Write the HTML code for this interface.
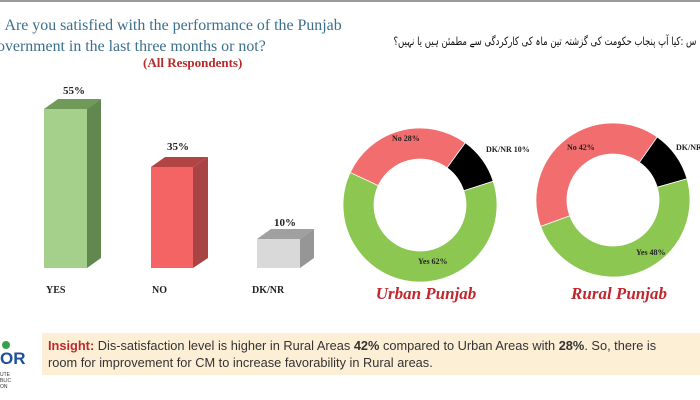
<!DOCTYPE html>
<html><head><meta charset="utf-8"><style>
body{margin:0;width:700px;height:400px;background:#fff;overflow:hidden;position:relative;font-family:"Liberation Serif",serif}
.t{position:absolute;white-space:nowrap}
</style></head><body>
<div style="position:absolute;left:0;top:0;width:700px;height:2px;background:#9a9a9a"></div>
<div class="t" style="left:-3px;top:15px;font-size:15.9px;color:#3c6f8c;line-height:21px">: Are you satisfied with the performance of the Punjab<br>overnment in the last three months or not?</div>
<div class="t" style="left:143px;top:55px;font-size:13px;font-weight:bold;color:#b82a2a">(All Respondents)</div>
<div class="t" style="right:4px;top:34px;font-size:11.5px;color:#111;font-family:'DejaVu Sans',sans-serif;direction:rtl;transform:scaleX(0.74);transform-origin:right center">س :کیا آپ پنجاب حکومت کی گزشتہ تین ماہ کی کارکردگی سے مطمئن ہیں یا نہیں؟</div>
<svg width="700" height="400" style="position:absolute;left:0;top:0" id="s">
<g font-family="Liberation Serif" font-weight="bold" font-size="11" fill="#222">
<polygon points="44,109 58,99 101,99 87,109" fill="#6f9a5a"/>
<polygon points="87,109 101,99 101,258 87,268" fill="#62874f"/>
<rect x="44" y="109" width="43" height="159" fill="#a5d08b"/>
<polygon points="151,167 165,157 208,157 193,167" fill="#b34444"/>
<polygon points="193,167 208,157 208,258 193,268" fill="#a84444"/>
<rect x="151" y="167" width="42" height="101" fill="#f46464"/>
<polygon points="257,239 271,229 314,229 300,239" fill="#a0a0a0"/>
<polygon points="300,239 314,229 314,258 300,268" fill="#969696"/>
<rect x="257" y="239" width="43" height="29" fill="#d9d9d9"/>
<text x="74" y="94" text-anchor="middle">55%</text>
<text x="178" y="150" text-anchor="middle">35%</text>
<text x="285" y="226" text-anchor="middle">10%</text>
<text x="46" y="293" font-size="10">YES</text>
<text x="152" y="293" font-size="10">NO</text>
<text x="252" y="293" font-size="10">DK/NR</text>
</g>
<g id="d"></g>
<g font-family="Liberation Serif" font-weight="bold" font-size="8" fill="#222">
<text x="392" y="141">No 28%</text>
<text x="486" y="152">DK/NR 10%</text>
<text x="418" y="264">Yes 62%</text>
<text x="567" y="150">No 42%</text>
<text x="676" y="150">DK/NR</text>
<text x="636" y="255">Yes 48%</text>
</g>
<g font-family="Liberation Serif" font-weight="bold" font-style="italic" font-size="17" fill="#c0282f" text-anchor="middle">
<text x="426" y="299">Urban Punjab</text>
<text x="619" y="299">Rural Punjab</text>
</g>
</svg>
<div style="position:absolute;left:42px;top:333px;width:660px;height:42px;background:#fcefd6"></div>
<div class="t" style="left:48px;top:337px;font-size:12.8px;line-height:17px;color:#333;font-family:'Liberation Sans',sans-serif"><b style="color:#c0282f">Insight:</b> Dis-satisfaction level is higher in Rural Areas <b>42%</b> compared to Urban Areas with <b>28%</b>. So, there is<br>room for improvement for CM to increase favorability in Rural areas.</div>
<div style="position:absolute;left:2px;top:341px;width:8px;height:8px;border-radius:50%;background:#3aa048"></div>
<div class="t" style="left:0;top:349px;font-size:17px;font-weight:bold;color:#1f4e9a;font-family:'Liberation Sans',sans-serif">OR</div>
<div class="t" style="left:0;top:372px;font-size:5px;line-height:6px;color:#333;font-family:'Liberation Sans',sans-serif">UTE<br>BLIC<br>ON</div>
<script>
function arc(cx,cy,R,r,a0,a1,c){const f=a=>[(Math.sin(a*Math.PI/180)),-Math.cos(a*Math.PI/180)];const[p,q]=f(a0),[s,t]=f(a1);const l=(a1-a0)>180?1:0;return `<path d="M${cx+R*p},${cy+R*q} A${R},${R} 0 ${l} 1 ${cx+R*s},${cy+R*t} L${cx+r*s},${cy+r*t} A${r},${r} 0 ${l} 0 ${cx+r*p},${cy+r*q}Z" fill="${c}" stroke="#fff" stroke-width="0.8"/>`}
let h='';
h+=arc(420,205,77,46,36,72,'#000')+arc(420,205,77,46,72,295,'#8cc751')+arc(420,205,77,46,295,396,'#f26d6d');
h+=arc(613,200,77,46,35,74,'#000')+arc(613,200,77,46,74,250,'#8cc751')+arc(613,200,77,46,250,395,'#f26d6d');
document.getElementById('d').innerHTML=h;
</script>
</body></html>
